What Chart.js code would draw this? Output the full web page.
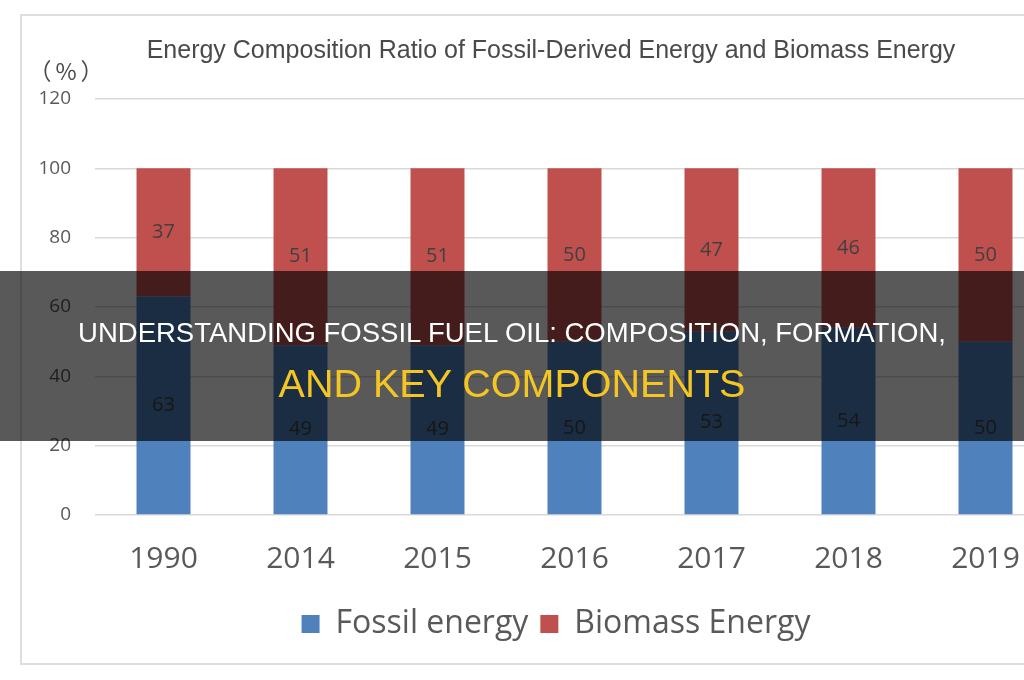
<!DOCTYPE html>
<html>
<head>
<meta charset="utf-8">
<script src="https://cdn.jsdelivr.net/npm/chart.js@4.4.0/dist/chart.umd.min.js"></script>
<style>
  body { margin: 0; width: 1024px; height: 680px; overflow: hidden; background: #fff; position: relative; }
  #frame { position: absolute; left: 20px; top: 14px; width: 1120px; height: 647px; border: 2px solid #dedede; }
  #wrap { position: absolute; left: 0; top: 0; }
  #band { position: absolute; left: 0; top: 271px; width: 1024px; height: 170px; background: rgba(0, 0, 0, 0.65); }
  .line { position: absolute; left: 0; width: 1024px; text-align: center; font-family: "Liberation Sans", Arial, sans-serif; white-space: nowrap; }
  #l1 { top: 318px; color: #fff; font-size: 27.5px; line-height: 30px; }
  #l2 { top: 362px; color: #f5c623; font-size: 39.5px; line-height: 42px; }
</style>
</head>
<body>
<div id="frame"></div>
<div id="wrap"><canvas id="chart" width="1112" height="680"></canvas></div>
<div id="band"></div>
<div class="line" id="l1">UNDERSTANDING FOSSIL FUEL OIL: COMPOSITION, FORMATION,</div>
<div class="line" id="l2">AND KEY COMPONENTS</div>

<script>
// values
const years = ["1990", "2014", "2015", "2016", "2017", "2018", "2019"];
const fossil = [63, 49, 49, 50, 53, 54, 50];
const biomass = [37, 51, 51, 50, 47, 46, 50];
const yTicks = [0, 20, 40, 60, 80, 100, 120];

const chartTitle = "Energy Composition Ratio of Fossil-Derived Energy and Biomass Energy";
const unitLabel = "（%）";

// title, unit and value labels drawn on the canvas
const textPlugin = {
    id: "textPlugin",
    afterDatasetsDraw(chart) {
        const ctx = chart.ctx;
        ctx.save();
        ctx.textAlign = "center";
        ctx.textBaseline = "middle";
        ctx.fillStyle = "#404040";
        ctx.font = '20px "Open Sans"';
        chart.data.datasets.forEach((ds, i) => {
            const meta = chart.getDatasetMeta(i);
            meta.data.forEach((bar, j) => {
                const c = bar.getCenterPoint();
                ctx.fillText(String(ds.data[j]), c.x, c.y);
            });
        });

        ctx.fillStyle = "#4a4a4a";
        ctx.font = '25px "Liberation Sans"';
        ctx.fillText(chartTitle, 551, 51);
        ctx.font = '23px "Noto Sans CJK JP"';
        ctx.letterSpacing = "4px";
        ctx.fillText(unitLabel, 68, 71);
        ctx.restore();
    }
};

new Chart(document.getElementById("chart"), {
    type: "bar",
    data: {
        labels: years,
        datasets: [
            { label: "Fossil energy", data: fossil, backgroundColor: "#4f81bd" },
            { label: "Biomass Energy", data: biomass, backgroundColor: "#c0504d" }
        ]
    },
    options: {
        responsive: false,
        animation: false,
        events: [],
        categoryPercentage: 1,
        barPercentage: 0.394,
        layout: { padding: { top: 99, right: 0, left: 0, bottom: 30 } },
        scales: {
            x: {
                stacked: true,
                grid: { display: false },
                border: { display: false },
                ticks: { color: "#595959", font: { family: "Open Sans", size: 30 }, padding: 18 },
                afterFit: (s) => { s.height = 81; }
            },
            y: {
                stacked: true,
                min: 0,
                max: 120,
                afterBuildTicks: (s) => { s.ticks = yTicks.map(v => ({ value: v })); },
                grid: { color: "#d9d9d9", drawTicks: false, lineWidth: 1.5 },
                border: { display: false },
                ticks: { color: "#595959", font: { family: "Open Sans", size: 19 }, padding: 24 },
                afterFit: (s) => { s.width = 95; }
            },
            // empty right-hand axis, only keeps space so the legend sits where it does in the picture
            yRight: {
                position: "right",
                min: 0,
                max: 120,
                grid: { display: false },
                border: { display: false },
                ticks: { display: false },
                afterFit: (s) => { s.width = 58; }
            }
        },
        plugins: {
            legend: {
                position: "bottom",
                labels: {
                    color: "#595959",
                    font: { family: "Open Sans", size: 32 },
                    boxWidth: 18,
                    boxHeight: 18,
                    padding: 12
                }
            },
            tooltip: { enabled: false }
        }
    },
    plugins: [textPlugin]
});
</script>
</body>
</html>
